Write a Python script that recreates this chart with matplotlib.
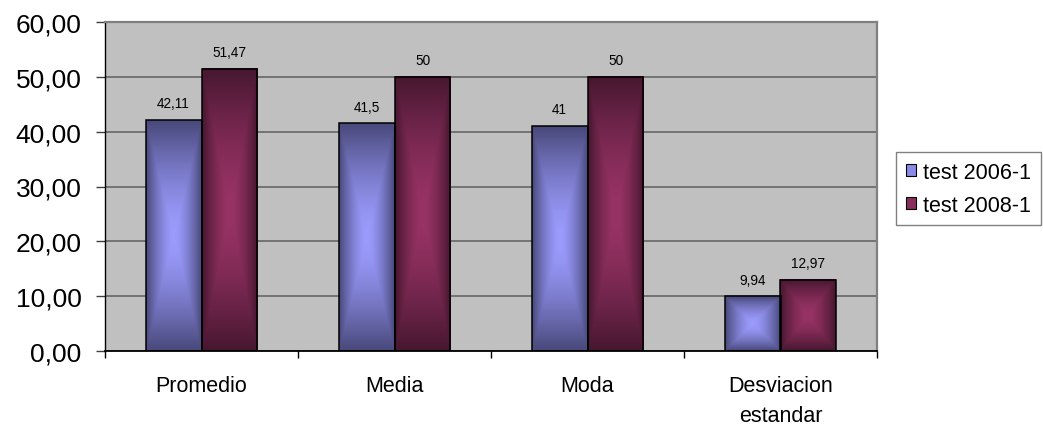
import numpy as np
import matplotlib
matplotlib.use("Agg")
import matplotlib.pyplot as plt
from matplotlib.patches import Patch
from matplotlib.ticker import FixedLocator

plt.rcParams['font.family'] = ['Liberation Sans', 'DejaVu Sans']

categories = ["Promedio", "Media", "Moda", "Desviacion\nestandar"]
series_names = ["test 2006-1", "test 2008-1"]
test_2006 = [42.11, 41.5, 41, 9.94]
test_2008 = [51.47, 50, 50, 12.97]
value_labels_2006 = ["42,11", "41,5", "41", "9,94"]
value_labels_2008 = ["51,47", "50", "50", "12,97"]
yticks = [0, 10, 20, 30, 40, 50, 60]

# (center colour, edge colour) for the centre-out fill of each series
palettes = [
    (np.array([0x9C, 0x9C, 0xFF]) / 255, np.array([0x48, 0x48, 0x7A]) / 255),
    (np.array([0x99, 0x33, 0x66]) / 255, np.array([0x46, 0x17, 0x2F]) / 255),
]
legend_colors = ["#8A8AE6", "#8A2E5C"]


def center_gradient(center, edge, n=200):
    u = np.linspace(-1, 1, n)
    X, Y = np.meshgrid(u, u)
    t = np.maximum(np.abs(X), np.abs(Y))
    t = t ** 1.5
    img = center[None, None, :] * (1 - t[..., None]) + edge[None, None, :] * t[..., None]
    return img


W, H = 1043, 431
fig = plt.figure(figsize=(W / 100, H / 100), dpi=100)
ax = fig.add_axes([105 / W, 1 - 352 / H, (877 - 105) / W, (352 - 23) / H])
ax.set_facecolor("#C0C0C0")

x = np.arange(len(categories))
bw = 0.29
series = [test_2006, test_2008]
labels = [value_labels_2006, value_labels_2008]
offsets = [-bw / 2, bw / 2]

for s, (vals, off, lbls) in enumerate(zip(series, offsets, labels)):
    bars = ax.bar(x + off, vals, width=bw, facecolor="none", edgecolor="black",
                  linewidth=1.1, zorder=3)
    img = center_gradient(*palettes[s])
    for rect, lab in zip(bars, lbls):
        bx, by = rect.get_x(), rect.get_y()
        w, h = rect.get_width(), rect.get_height()
        ax.imshow(img, extent=[bx, bx + w, by, by + h], aspect="auto",
                  interpolation="bilinear", zorder=2)
        ax.annotate(lab, (bx + w / 2, by + h), xytext=(0, 7), textcoords="offset points",
                    ha="center", va="bottom", fontsize=9.8, color="black", zorder=4)

ax.set_xlim(-0.5, len(categories) - 0.5)
ax.set_ylim(0, 60)

ax.set_yticks(yticks)
ax.set_yticklabels([f"{v:.2f}".replace(".", ",") for v in yticks], fontsize=19)
ax.yaxis.grid(True, color="#6E6E6E", linewidth=1.3, zorder=1)
ax.set_axisbelow(True)
ax.tick_params(axis="y", length=6.5, width=1.0, color="#404040", pad=10.5)

ax.set_xticks(x)
ax.set_xticklabels(categories, fontsize=15.5, linespacing=1.6)
ax.tick_params(axis="x", which="major", length=0, pad=17)
ax.xaxis.set_minor_locator(FixedLocator(np.arange(-0.5, len(categories), 1.0)))
ax.tick_params(axis="x", which="minor", length=5, width=1.0, color="black")

for side in ("top", "right"):
    ax.spines[side].set_color("#808080")
    ax.spines[side].set_linewidth(1.6)
ax.spines["left"].set_color("black")
ax.spines["bottom"].set_color("black")
ax.spines["left"].set_linewidth(1.0)
ax.spines["bottom"].set_linewidth(1.3)

handles = [Patch(facecolor=c, edgecolor="black", linewidth=0.8) for c in legend_colors]
leg = fig.legend(handles, series_names, loc="upper left",
                 bbox_to_anchor=(896 / W, 1 - 153 / H), borderaxespad=0,
                 fontsize=15.5, frameon=True, fancybox=False,
                 handlelength=0.5, handleheight=0.5, handletextpad=0.3,
                 borderpad=0.45, labelspacing=0.55)
leg.get_frame().set_edgecolor("#606060")
leg.get_frame().set_linewidth(1.0)

fig.savefig("out.png", dpi=100)
